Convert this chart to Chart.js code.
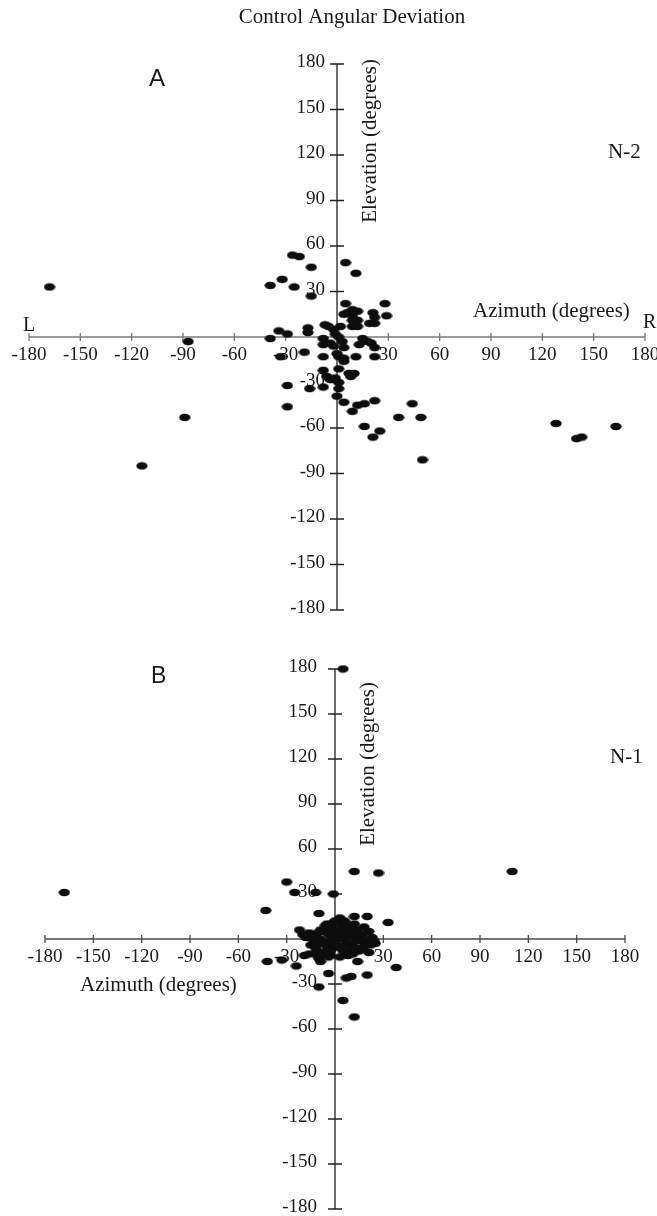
<!DOCTYPE html>
<html>
<head>
<meta charset="utf-8">
<title>Control Angular Deviation</title>
<script src="https://cdn.jsdelivr.net/npm/chart.js@4.4.1/dist/chart.umd.min.js"></script>
<style>
  html, body { margin: 0; padding: 0; background: #fff; }
  #wrap { position: relative; width: 657px; height: 1216px; overflow: hidden; }
  canvas { position: absolute; left: 0; }
  #panelA { top: 0; }
  #panelB { top: 640px; }
</style>
</head>
<body>
<div id="wrap">
  <canvas id="panelA" width="657" height="640"></canvas>
  <canvas id="panelB" width="657" height="576"></canvas>
</div>
<script>
// tick positions shared by both axes of both panels (degrees)
const axisTicks = [-180, -150, -120, -90, -60, -30, 0, 30, 60, 90, 120, 150, 180];

// panel A (N-2): azimuth / elevation of each trial
const aAzimuth = [
  -168, -87, -89, -114, 128, 140, 143, 163, 50, 16, 25, 21, 36, 44, 49,
  -39, -32, -25, -15, -15, -26, -22, 5, 11, 5, 28,
  4, 6, 9, 12, 9, 9, 12, 21, 22, 29,
  2, 9, 12, 19, 22, -7, -5, -2,
  -17, -17, -29, -34, -39,
  -1, 1, -8, -8, -4, -2, 3, 4, 13, 15, 18, 20, 22,
  -19, -33, -8, 0, 1, 4, 4, 11, 22,
  1, -8, -6, -4, -1, 7, 10, 8,
  1, -8, -16, -29, 1, 0, 4, 12, 16, 9, 22, -29
];
const aElevation = [
  33, -3, -53, -85, -57, -67, -66, -59, -81, -59, -62, -66, -53, -44, -53,
  34, 38, 33, 46, 27, 54, 53, 49, 42, 22, 22,
  15, 16, 18, 17, 14, 11, 11, 16, 13, 14,
  7, 7, 7, 9, 9, 8, 7, 5,
  6, 3, 2, 4, -1,
  2, 0, -1, -5, -4, -6, -3, -7, -5, -1, -3, -4, -7,
  -10, -13, -13, -11, -13, -14, -16, -13, -13,
  -21, -22, -26, -28, -27, -24, -24, -26,
  -30, -33, -34, -32, -34, -39, -43, -45, -44, -49, -42, -46
];

// panel B (N-1)
const bAzimuth = [
  -168, 110, 5,
  -30, -25, -12, -1, 12, 27,
  -43, -10, 12, 20, 33, 3,
  -22, 23, 25, 19, 21,
  -19, -11, -10, -9, -3, 8, 14,
  -33, -42, -24, 38,
  20, 7, 10, -4, -10, 5, 12,
  -1, -3, 8, 10, 14,
  -16, -18, -14, -11, -9, -6,
  -7, -4, -2, 1, 3, 5, 6, 9, 11, 13, 15, 17,
  16, 20, 22, 18,
  7, 10, 13, 4,
  -5, -1, 2,
  -11, -10, -16,
  -8, -2, 0, 2, 4, 6, 8, -13, -12, -6, 0, 3, 12, -9, 5, -3, 15, 9,
  -20, -15, -12, -7, -5, 0, 6, 12, 18, 21, 24, -4, 3, 11
];
const bElevation = [
  31, 45, 180,
  38, 31, 31, 30, 45, 44,
  19, 17, 15, 15, 11, 14,
  6, 1, -3, -4, -9,
  -11, -11, -13, -15, -11, -11, -15,
  -14, -15, -18, -19,
  -24, -26, -25, -23, -32, -41, -52,
  11, 8, 9, 8, 6,
  4, 1, 1, 4, 0, -2,
  5, 3, 7, 4, 6, 3, 8, 5, 2, 4, 1, 3,
  -1, -1, -4, -5,
  -3, -5, -6, -5,
  -5, -6, -5,
  -8, -12, -10,
  -3, 0, 2, 0, 1, 0, 2, -2, 2, 9, -3, 10, -2, 6, -8, -8, -8, -9,
  3, -4, -6, -9, 10, 12, 12, 10, 8, 5, -1, -12, -12, -10
];

const SERIF = '"Liberation Serif", "Times New Roman", serif';
const SANS = '"Liberation Sans", Arial, sans-serif';
const INK = '#1a1a1a';

// flattened oval marker used for every trial
function ovalMarker() {
  const c = document.createElement('canvas');
  c.width = 12;
  c.height = 9;
  const g = c.getContext('2d');
  g.fillStyle = '#0d0d0d';
  g.beginPath();
  g.ellipse(6, 4.5, 5.6, 3.8, 0, 0, Math.PI * 2);
  g.fill();
  return c;
}
const marker = ovalMarker();

function tickLabel(v) {
  return v === 0 ? '' : String(v);
}

// axes crossing at the origin, ticks straddling the lines, elevation
// labels left of the vertical axis, plus the free text of each panel
const crossAxes = {
  id: 'crossAxes',
  beforeDatasetsDraw(chart, args, opts) {
    const {ctx, scales: {x, y}} = chart;
    const x0 = x.getPixelForValue(0);
    const y0 = y.getPixelForValue(0);
    const lo = axisTicks[0], hi = axisTicks[axisTicks.length - 1];
    ctx.save();
    ctx.lineWidth = 1.3;

    ctx.strokeStyle = opts.xColor;
    ctx.beginPath();
    ctx.moveTo(x.getPixelForValue(lo), y0);
    ctx.lineTo(x.getPixelForValue(hi), y0);
    axisTicks.forEach(v => {
      if (v === 0) return;
      const px = x.getPixelForValue(v);
      ctx.moveTo(px, y0 - 4);
      ctx.lineTo(px, y0 + 4);
    });
    ctx.stroke();

    ctx.strokeStyle = opts.yColor;
    ctx.beginPath();
    ctx.moveTo(x0, y.getPixelForValue(hi));
    ctx.lineTo(x0, y.getPixelForValue(lo));
    axisTicks.forEach(v => {
      if (v === 0) return;
      const py = y.getPixelForValue(v);
      ctx.moveTo(x0 - 7, py);
      ctx.lineTo(x0 + 7, py);
    });
    ctx.stroke();

    ctx.fillStyle = INK;
    ctx.font = '19px ' + SERIF;
    ctx.textAlign = 'right';
    ctx.textBaseline = 'middle';
    axisTicks.forEach(v => {
      const label = tickLabel(v);
      if (label) ctx.fillText(label, x0 - opts.yGap, y.getPixelForValue(v) - 1.5);
    });

    ctx.textBaseline = 'alphabetic';
    opts.texts.forEach(t => {
      ctx.save();
      ctx.font = t.font;
      ctx.textAlign = t.align || 'left';
      ctx.translate(t.x, t.y);
      if (t.rotate) ctx.rotate(-Math.PI / 2);
      ctx.fillText(t.text, 0, 0);
      ctx.restore();
    });
    ctx.restore();
  }
};

function panel(id, az, el, pad, extra) {
  return new Chart(document.getElementById(id), {
    type: 'scatter',
    data: {
      datasets: [{
        data: az.map((v, i) => ({x: v, y: el[i]})),
        pointStyle: marker,
        pointRadius: 5,
        backgroundColor: '#111',
        borderWidth: 0,
        clip: false
      }]
    },
    options: {
      responsive: false,
      animation: false,
      events: [],
      devicePixelRatio: 1,
      layout: {padding: pad},
      plugins: {
        legend: {display: false},
        tooltip: {enabled: false},
        crossAxes: extra
      },
      scales: {
        x: {
          type: 'linear',
          min: -180,
          max: 180,
          position: {y: 0},
          grid: {display: false, drawTicks: false},
          border: {display: false},
          afterBuildTicks: s => { s.ticks = axisTicks.map(v => ({value: v})); },
          afterFit: s => { s.paddingLeft = 0; s.paddingRight = 0; },
          ticks: {
            autoSkip: false,
            maxRotation: 0,
            padding: 7,
            color: INK,
            font: {family: SERIF, size: 19},
            callback: tickLabel
          }
        },
        y: {
          type: 'linear',
          min: -180,
          max: 180,
          position: {x: 0},
          grid: {display: false, drawTicks: false},
          border: {display: false},
          afterBuildTicks: s => { s.ticks = axisTicks.map(v => ({value: v})); },
          afterFit: s => { s.paddingTop = 0; s.paddingBottom = 0; },
          ticks: {display: false}
        }
      }
    },
    plugins: [crossAxes]
  });
}

panel('panelA', aAzimuth, aElevation, {left: 29, right: 12, top: 64, bottom: 30}, {
  xColor: '#7a7a7a',
  yColor: '#222',
  yGap: 12,
  texts: [
    {text: 'Control Angular Deviation', font: '21px ' + SERIF, x: 352, y: 23, align: 'center'},
    {text: 'A', font: '24px ' + SANS, x: 149, y: 86},
    {text: 'N-2', font: '21px ' + SERIF, x: 608, y: 158},
    {text: 'Elevation (degrees)', font: '21px ' + SERIF, x: 376, y: 59, align: 'right', rotate: true},
    {text: 'Azimuth (degrees)', font: '21px ' + SERIF, x: 473, y: 317},
    {text: 'L', font: '20px ' + SERIF, x: 23, y: 331},
    {text: 'R', font: '20px ' + SERIF, x: 643, y: 328}
  ]
});

panel('panelB', bAzimuth, bElevation, {left: 45, right: 32, top: 29, bottom: 7}, {
  xColor: '#4a4a4a',
  yColor: '#222',
  yGap: 18,
  texts: [
    {text: 'B', font: '23px ' + SANS, x: 151, y: 43},
    {text: 'N-1', font: '21px ' + SERIF, x: 610, y: 123},
    {text: 'Elevation (degrees)', font: '21px ' + SERIF, x: 374, y: 42, align: 'right', rotate: true},
    {text: 'Azimuth (degrees)', font: '21px ' + SERIF, x: 80, y: 351}
  ]
});
</script>
</body>
</html>
